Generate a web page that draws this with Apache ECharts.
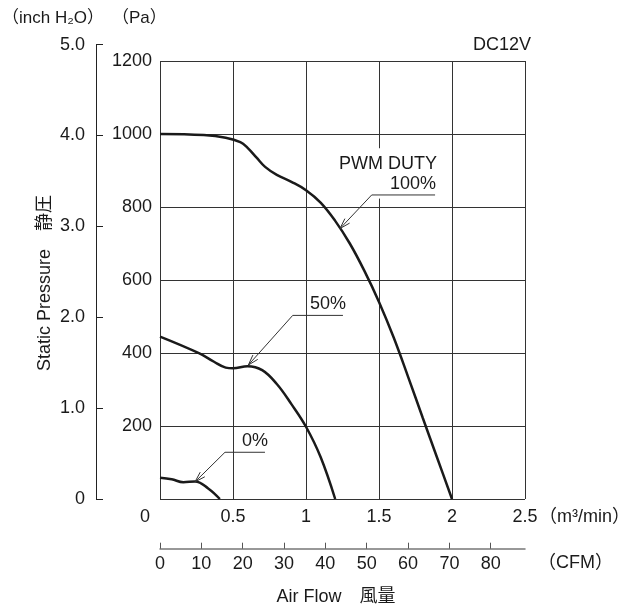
<!DOCTYPE html>
<html>
<head>
<meta charset="utf-8">
<script src="https://cdn.jsdelivr.net/npm/echarts@6/dist/echarts.min.js"></script>
<style>
  html, body { margin: 0; padding: 0; background: #fff; }
  #chart { width: 629px; height: 610px; }
</style>
</head>
<body>
<div id="chart"></div>
<script>
// 風量 (m3/min) vs 静圧 (Pa)
var duty100 = [[0, 1000], [0.3, 997], [0.45, 990], [0.55, 978], [0.6, 962], [0.66, 936], [0.72, 910],
  [0.8, 888], [0.9, 869], [1.0, 846], [1.1, 812], [1.2, 762], [1.3, 700], [1.4, 625],
  [1.5, 540], [1.6, 443], [1.7, 334], [1.8, 222], [1.9, 111], [2.0, 0]];
var duty50 = [[0, 445], [0.27, 399], [0.37, 376], [0.45, 360], [0.5, 358], [0.6, 364], [0.7, 353],
  [0.8, 315], [0.9, 260], [1.0, 198], [1.1, 115], [1.2, 0]];
var duty0 = [[0, 58], [0.08, 54], [0.16, 46], [0.24, 48], [0.33, 29], [0.41, 0]];

var paTicks = [0, 200, 400, 600, 800, 1000, 1200];
var inchTicks = [0, 1, 2, 3, 4, 5];
var cfmTicks = [0, 10, 20, 30, 40, 50, 60, 70, 80];

// 注記 (tip, elbow, end of underline, text anchor) in data units
var notes = [
  { tip: [1.233, 741], elbow: [1.45, 833], end: [1.884, 833], lines: [['PWM DUTY', [1.897, 919]], ['100%', [1.89, 864]]] },
  { tip: [0.605, 367], elbow: [0.909, 503], end: [1.253, 503], lines: [['50%', [1.274, 534]]] },
  { tip: [0.24, 47], elbow: [0.445, 128], end: [0.719, 128], lines: [['0%', [0.74, 159]]] }
];

var FONT = 'Liberation Sans, Arial, Noto Sans CJK JP';
var INK = '#1a1a1a';
var GRIDC = '#333';

var chart = echarts.init(document.getElementById('chart'));

var option = {
  animation: false,
  backgroundColor: '#fff',
  textStyle: { fontFamily: FONT },
  grid: [
    { left: 160, top: 61, width: 365, height: 438 },
    { left: 96, top: 44.6, width: 1, height: 454.4 },
    { left: 160, top: 547.7, width: 365, height: 1 }
  ],
  xAxis: [
    {
      gridIndex: 0, type: 'value', min: 0, max: 2.5, interval: 0.5,
      axisLine: { show: false }, axisTick: { show: false },
      splitLine: { show: true, lineStyle: { color: GRIDC, width: 1 } },
      axisLabel: {
        margin: 9, color: INK, fontSize: 18, fontFamily: FONT,
        formatter: function (v) { return v === 0 ? '{z|0}' : String(v); },
        rich: { z: { fontSize: 18, fontFamily: FONT, color: INK, padding: [0, 30, 0, 0] } }
      }
    },
    { gridIndex: 1, type: 'value', show: false },
    {
      gridIndex: 2, type: 'value', min: 0, max: 2.5 / 0.0283168, interval: 10,
      axisLine: { show: true, lineStyle: { color: '#777', width: 1.5 } },
      axisTick: { show: true, inside: true, length: 6, lineStyle: { color: '#555' } },
      splitLine: { show: false },
      axisLabel: {
        margin: 6, color: INK, fontSize: 18, fontFamily: FONT, showMaxLabel: false,
        formatter: function (v) { return cfmTicks.indexOf(v) >= 0 ? String(v) : ''; }
      }
    }
  ],
  yAxis: [
    {
      gridIndex: 0, type: 'value', min: 0, max: 1200, interval: 200,
      axisLine: { show: false }, axisTick: { show: false },
      splitLine: { show: true, lineStyle: { color: GRIDC, width: 1 } },
      axisLabel: {
        margin: 8, color: INK, fontSize: 18, fontFamily: FONT,
        formatter: function (v) { return paTicks.indexOf(v) >= 0 && v !== 0 ? String(v) : ''; }
      }
    },
    {
      gridIndex: 1, type: 'value', min: 0, max: 5, interval: 1, position: 'left',
      axisLine: { show: true, lineStyle: { color: '#222', width: 1 } },
      axisTick: { show: true, inside: true, length: 7, lineStyle: { color: '#222' } },
      splitLine: { show: false },
      axisLabel: {
        margin: 11, color: INK, fontSize: 18, fontFamily: FONT,
        formatter: function (v) { return inchTicks.indexOf(v) < 0 ? '' : (v === 0 ? '0' : v.toFixed(1)); }
      }
    },
    { gridIndex: 2, type: 'value', show: false }
  ],
  series: [
    { name: '100%', type: 'line', data: duty100 },
    { name: '50%', type: 'line', data: duty50 },
    { name: '0%', type: 'line', data: duty0 }
  ].map(function (s) {
    return Object.assign(s, {
      xAxisIndex: 0, yAxisIndex: 0, smooth: 0.4, showSymbol: false, z: 5,
      lineStyle: { color: INK, width: 2.5 }
    });
  })
};
chart.setOption(option);

function px(p) { return chart.convertToPixel({ gridIndex: 0 }, p); }

var g = [];
function txt(text, x, y, size, align, extra) {
  var t = {
    type: 'text', x: x, y: y, z: 20,
    style: { text: text, fill: INK, font: size + 'px ' + FONT, textAlign: align || 'left', textVerticalAlign: 'middle' }
  };
  return Object.assign(t, extra || {});
}

// gap in the 1.5 grid line behind the PWM DUTY note
var gTop = px([1.5, 961]), gBot = px([1.5, 823]);
g.push({ type: 'rect', z: 3, shape: { x: gTop[0] - 3, y: gTop[1], width: 6, height: gBot[1] - gTop[1] }, style: { fill: '#fff' } });

notes.forEach(function (n) {
  var t = px(n.tip), e = px(n.elbow), d = px(n.end);
  g.push({ type: 'polyline', z: 10, shape: { points: [d, e, t] }, style: { stroke: '#333', lineWidth: 1, fill: null } });
  var dx = t[0] - e[0], dy = t[1] - e[1], L = Math.sqrt(dx * dx + dy * dy);
  dx /= L; dy /= L;
  var arms = [0.3, -0.3].map(function (a) {
    var c = Math.cos(a), s = Math.sin(a);
    return [t[0] - 11 * (dx * c - dy * s), t[1] - 11 * (dx * s + dy * c)];
  });
  g.push({ type: 'polyline', z: 10, shape: { points: [arms[0], t, arms[1]] }, style: { stroke: '#333', lineWidth: 1, fill: null } });
  n.lines.forEach(function (l) {
    var p = px(l[1]);
    g.push(txt(l[0], p[0], p[1], 18, 'right'));
  });
});

g.push(txt('（inch H₂O）', 2, 18, 17, 'left'));
g.push(txt('（Pa）', 112, 18, 17, 'left'));
g.push(txt('DC12V', 531, 45, 18, 'right'));
g.push(txt('（m³/min）', 539, 517, 18, 'left'));
g.push(txt('（CFM）', 538, 563, 18, 'left'));
g.push(txt('Air Flow　風量', 336, 597, 18, 'center'));
g.push(txt('Static Pressure　静圧', 45, 283, 18, 'center', { rotation: Math.PI / 2 }));

chart.setOption({ graphic: { elements: g } });
</script>
</body>
</html>
